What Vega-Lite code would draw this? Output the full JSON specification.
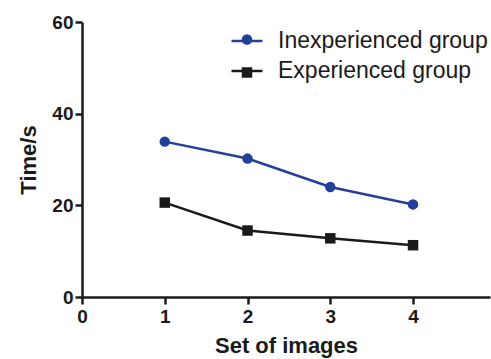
{
  "$schema": "https://vega.github.io/schema/vega-lite/v6.json",
  "autosize": "none",
  "width": 408,
  "height": 275,
  "padding": {"left": 82, "top": 22, "right": 1, "bottom": 62},
  "background": "white",
  "config": {
    "view": {"stroke": null},
    "font": "Liberation Sans",
    "axis": {
      "grid": false,
      "domainColor": "#1a1a1a",
      "domainWidth": 2.5,
      "tickColor": "#1a1a1a",
      "tickWidth": 2.5,
      "tickSize": 7,
      "labelFont": "Liberation Sans",
      "labelFontWeight": "bold",
      "labelFontSize": 19,
      "labelColor": "#1a1a1a",
      "labelFlush": false,
      "titleFont": "Liberation Sans",
      "titleFontWeight": "bold",
      "titleFontSize": 22,
      "titleColor": "#1a1a1a"
    }
  },
  "data": {
    "values": [
      {"set": 1, "time": 33.9, "group": "Inexperienced group"},
      {"set": 2, "time": 30.2, "group": "Inexperienced group"},
      {"set": 3, "time": 24.0, "group": "Inexperienced group"},
      {"set": 4, "time": 20.2, "group": "Inexperienced group"},
      {"set": 1, "time": 20.6, "group": "Experienced group"},
      {"set": 2, "time": 14.5, "group": "Experienced group"},
      {"set": 3, "time": 12.8, "group": "Experienced group"},
      {"set": 4, "time": 11.3, "group": "Experienced group"}
    ]
  },
  "encoding": {
    "x": {
      "field": "set", "type": "quantitative",
      "scale": {"domain": [0, 4.93], "nice": false, "zero": false},
      "axis": {"values": [0, 1, 2, 3, 4], "title": "Set of images", "labelPadding": 3, "titlePadding": 9}
    },
    "y": {
      "field": "time", "type": "quantitative",
      "scale": {"domain": [0, 60], "nice": false},
      "axis": {"values": [0, 20, 40, 60], "title": "Time/s", "labelPadding": 2, "titlePadding": 11}
    }
  },
  "layer": [
    {
      "mark": {"type": "line", "strokeWidth": 2.5},
      "encoding": {
        "color": {
          "field": "group", "type": "nominal",
          "sort": ["Inexperienced group", "Experienced group"],
          "scale": {"range": ["#22409a", "#1a1a1a"]},
          "legend": {
            "title": null,
            "orient": "none",
            "legendX": 148,
            "legendY": 2,
            "symbolType": "stroke",
            "symbolSize": 961,
            "symbolStrokeWidth": 2.5,
            "labelFont": "Liberation Sans",
            "labelFontSize": 23,
            "labelColor": "#1a1a1a",
            "labelLimit": 400,
            "labelOffset": 14,
            "rowPadding": 1
          }
        }
      }
    },
    {
      "mark": {"type": "point", "filled": true, "opacity": 1, "size": 110, "strokeWidth": 0},
      "encoding": {
        "fill": {
          "field": "group", "type": "nominal",
          "scale": {"domain": ["Inexperienced group", "Experienced group"], "range": ["#22409a", "#1a1a1a"]},
          "legend": {
            "title": null,
            "orient": "none",
            "legendX": 149.5,
            "legendY": 2,
            "symbolSize": 110,
            "symbolStrokeWidth": 0,
            "labelFont": "Liberation Sans",
            "labelFontSize": 31,
            "labelOpacity": 0,
            "labelLimit": 400,
            "labelOffset": 17,
            "rowPadding": 1
          }
        },
        "shape": {
          "field": "group", "type": "nominal",
          "scale": {"domain": ["Inexperienced group", "Experienced group"], "range": ["circle", "square"]},
          "legend": {
            "title": null,
            "orient": "none",
            "legendX": 149.5,
            "legendY": 2,
            "symbolSize": 110,
            "symbolStrokeWidth": 0,
            "labelFont": "Liberation Sans",
            "labelFontSize": 31,
            "labelOpacity": 0,
            "labelLimit": 400,
            "labelOffset": 17,
            "rowPadding": 1
          }
        }
      }
    }
  ]
}
